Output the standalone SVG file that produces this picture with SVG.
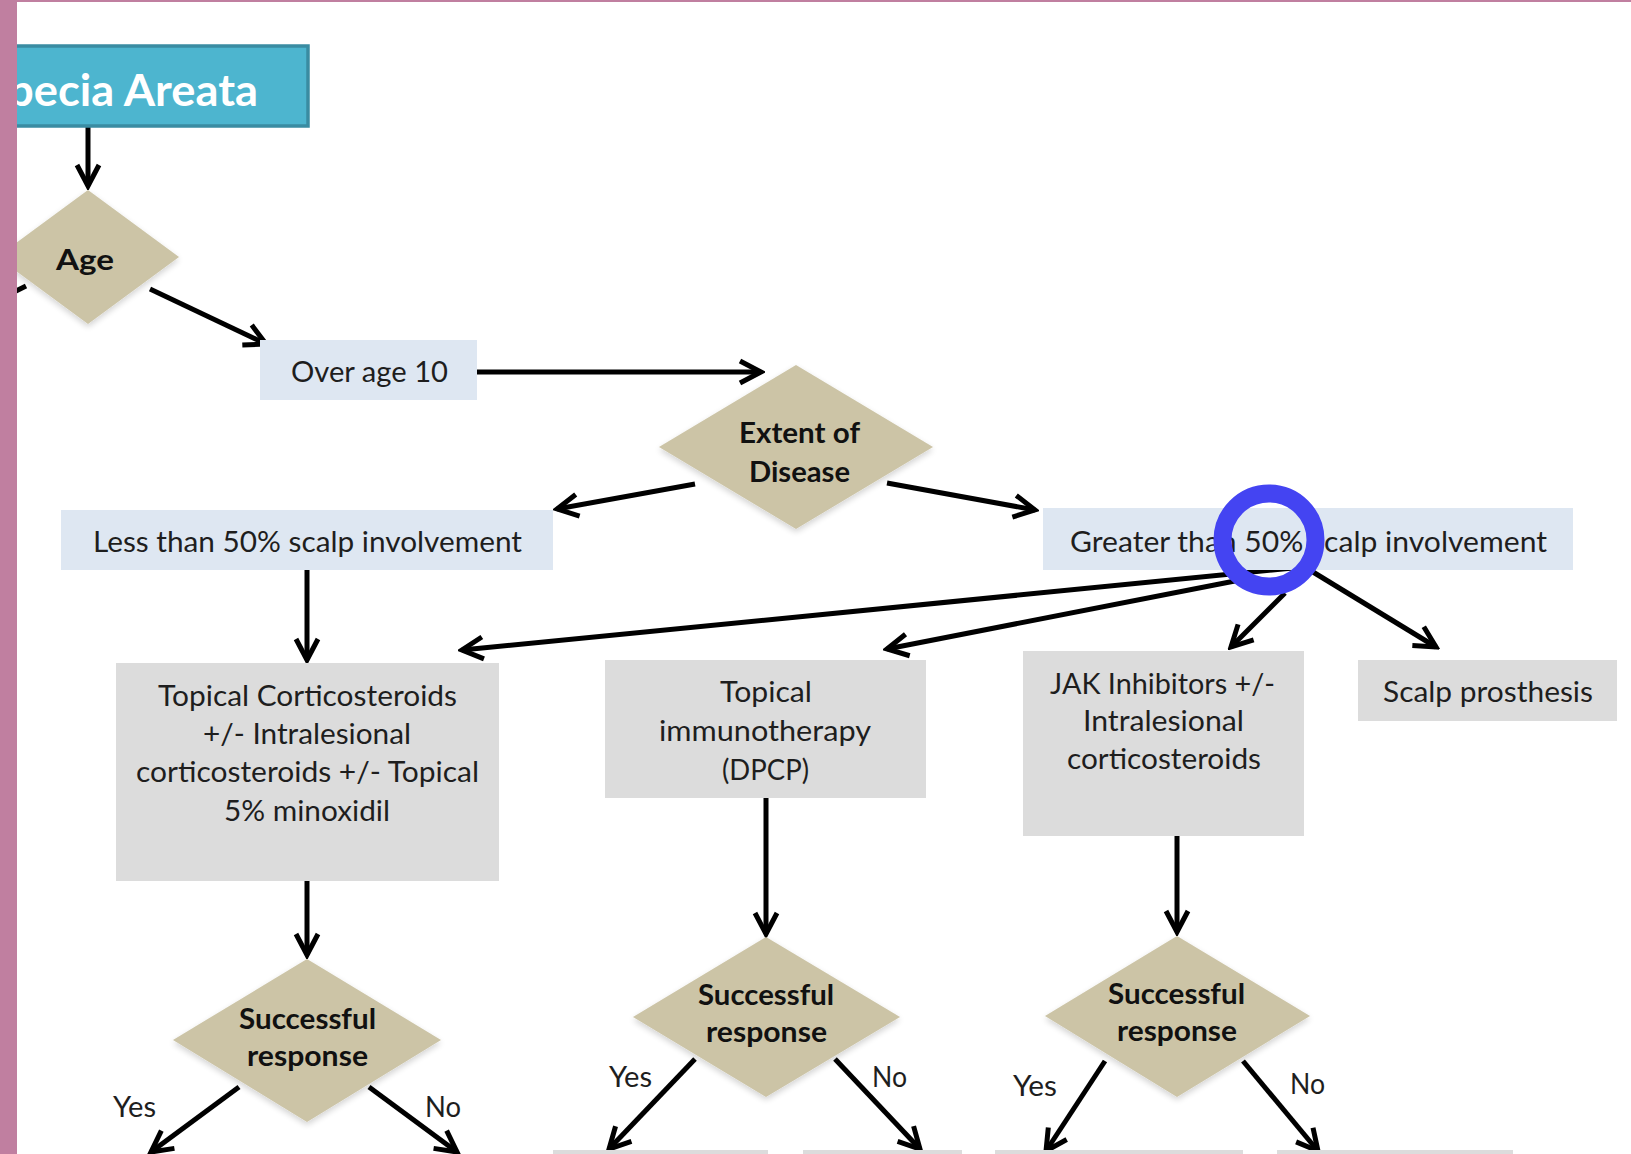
<svg xmlns="http://www.w3.org/2000/svg" width="1631" height="1154" viewBox="0 0 1631 1154">
<style>
.lb{fill:#DEE7F2}
.gb{fill:#DCDCDC}
.dm{fill:#CCC4A6;filter:url(#sh)}
.t{font-family:Lato,"Open Sans","Liberation Sans",sans-serif;font-size:29px;fill:#1E1E1E}
.b{font-family:Lato,"Open Sans","Liberation Sans",sans-serif;font-size:29px;font-weight:bold;fill:#111}
.c{fill:none;stroke:#000;stroke-width:5;marker-end:url(#ah)}
</style>
<defs>
<marker id="ah" markerUnits="userSpaceOnUse" viewBox="-26 -15 30 30" refX="0" refY="0" markerWidth="30" markerHeight="30" orient="auto">
<path d="M-21,-11 L0,0 L-21,11" fill="none" stroke="#000" stroke-width="5" stroke-linejoin="miter"/>
</marker>
<filter id="sh" x="-10%" y="-10%" width="120%" height="125%">
<feGaussianBlur in="SourceAlpha" stdDeviation="3"/>
<feOffset dx="0" dy="3" result="o"/>
<feComponentTransfer><feFuncA type="linear" slope="0.18"/></feComponentTransfer>
<feMerge><feMergeNode/><feMergeNode in="SourceGraphic"/></feMerge>
</filter>
</defs>
<rect width="1631" height="1154" fill="#FFFFFF"/>

<g id="connectors">
<line class="c" x1="88" y1="127" x2="88" y2="186"/>
<line x1="26" y1="286" x2="8" y2="295" stroke="#000" stroke-width="5"/>
<line class="c" x1="150" y1="289" x2="266" y2="344"/>
<line class="c" x1="477" y1="372" x2="761" y2="372"/>
<line class="c" x1="695" y1="484" x2="557" y2="509"/>
<line class="c" x1="887" y1="483" x2="1035" y2="510"/>
<line class="c" x1="307" y1="570" x2="307" y2="660"/>
<line class="c" x1="1293" y1="568" x2="462" y2="650"/>
<line class="c" x1="1240" y1="580" x2="887" y2="649"/>
<line class="c" x1="1285" y1="593" x2="1231" y2="647"/>
<line class="c" x1="1313" y1="572" x2="1436" y2="647"/>
<line class="c" x1="307" y1="881" x2="307" y2="955"/>
<line class="c" x1="766" y1="798" x2="766" y2="934"/>
<line class="c" x1="1177" y1="836" x2="1177" y2="932"/>
<line class="c" x1="239" y1="1087" x2="151" y2="1152"/>
<line class="c" x1="369" y1="1087" x2="457" y2="1152"/>
<line class="c" x1="695" y1="1059" x2="609" y2="1149"/>
<line class="c" x1="835" y1="1059" x2="920" y2="1149"/>
<line class="c" x1="1105" y1="1061" x2="1046" y2="1151"/>
<line class="c" x1="1243" y1="1061" x2="1318" y2="1151"/>
</g>

<g id="title">
<rect x="10" y="46" width="298" height="80" fill="#4DB5CF" stroke="#3A8CA2" stroke-width="3.5"/>
<text x="8" y="106" font-family="Lato,'Open Sans','Liberation Sans',sans-serif" font-size="43" font-weight="bold" fill="#FFFFFF" textLength="250" lengthAdjust="spacingAndGlyphs">pecia Areata</text>
</g>

<g id="age">
<polygon class="dm" points="88,190 179,257 88,324 -3,257"/>
<text class="b" x="56" y="270" font-size="33" textLength="58" lengthAdjust="spacingAndGlyphs">Age</text>
</g>

<g id="over-age-10">
<rect class="lb" x="260" y="340" width="217" height="60"/>
<text class="t" x="291" y="382" textLength="157" lengthAdjust="spacingAndGlyphs">Over age 10</text>
</g>

<g id="extent">
<polygon class="dm" points="796,365 933,447 796,529 659,447"/>
<text class="b" x="739" y="443" textLength="121" lengthAdjust="spacingAndGlyphs">Extent of</text>
<text class="b" x="749" y="482" textLength="101" lengthAdjust="spacingAndGlyphs">Disease</text>
</g>

<g id="less-than-50">
<rect class="lb" x="61" y="510" width="492" height="60"/>
<text class="t" x="93" y="552" textLength="429" lengthAdjust="spacingAndGlyphs">Less than 50% scalp involvement</text>
</g>

<g id="greater-than-50">
<rect class="lb" x="1043" y="508" width="530" height="62"/>
<text class="t" x="1070" y="552" textLength="477" lengthAdjust="spacingAndGlyphs">Greater than 50% scalp involvement</text>
</g>

<g id="topical-corticosteroids">
<rect class="gb" x="116" y="663" width="383" height="218"/>
<text class="t" x="158" y="706" textLength="299" lengthAdjust="spacingAndGlyphs">Topical Corticosteroids</text>
<text class="t" x="203" y="744" textLength="208" lengthAdjust="spacingAndGlyphs">+/- Intralesional</text>
<text class="t" x="136" y="782" textLength="343" lengthAdjust="spacingAndGlyphs">corticosteroids +/- Topical</text>
<text class="t" x="224" y="821" textLength="166" lengthAdjust="spacingAndGlyphs">5% minoxidil</text>
</g>

<g id="topical-immunotherapy">
<rect class="gb" x="605" y="660" width="321" height="138"/>
<text class="t" x="720" y="702" textLength="92" lengthAdjust="spacingAndGlyphs">Topical</text>
<text class="t" x="659" y="741" textLength="212" lengthAdjust="spacingAndGlyphs">immunotherapy</text>
<text class="t" x="722" y="780" textLength="87" lengthAdjust="spacingAndGlyphs">(DPCP)</text>
</g>

<g id="jak-inhibitors">
<rect class="gb" x="1023" y="651" width="281" height="185"/>
<text class="t" x="1050" y="694" textLength="225" lengthAdjust="spacingAndGlyphs">JAK Inhibitors +/-</text>
<text class="t" x="1083" y="731" textLength="161" lengthAdjust="spacingAndGlyphs">Intralesional</text>
<text class="t" x="1067" y="769" textLength="194" lengthAdjust="spacingAndGlyphs">corticosteroids</text>
</g>

<g id="scalp-prosthesis">
<rect class="gb" x="1358" y="660" width="259" height="61"/>
<text class="t" x="1383" y="702" textLength="210" lengthAdjust="spacingAndGlyphs">Scalp prosthesis</text>
</g>

<g id="response-1">
<polygon class="dm" points="307,959 441,1040 307,1122 173,1040"/>
<text class="b" x="239" y="1029" textLength="137" lengthAdjust="spacingAndGlyphs">Successful</text>
<text class="b" x="247" y="1066" textLength="121" lengthAdjust="spacingAndGlyphs">response</text>
</g>

<g id="response-2">
<polygon class="dm" points="766,937 900,1017 766,1097 633,1017"/>
<text class="b" x="698" y="1005" textLength="136" lengthAdjust="spacingAndGlyphs">Successful</text>
<text class="b" x="706" y="1042" textLength="121" lengthAdjust="spacingAndGlyphs">response</text>
</g>

<g id="response-3">
<polygon class="dm" points="1177,936 1310,1016 1177,1097 1045,1016"/>
<text class="b" x="1108" y="1004" textLength="137" lengthAdjust="spacingAndGlyphs">Successful</text>
<text class="b" x="1117" y="1041" textLength="120" lengthAdjust="spacingAndGlyphs">response</text>
</g>

<g id="labels">
<text class="t" x="113" y="1117" textLength="43" lengthAdjust="spacingAndGlyphs">Yes</text>
<text class="t" x="425" y="1117" textLength="36" lengthAdjust="spacingAndGlyphs">No</text>
<text class="t" x="609" y="1087" textLength="43" lengthAdjust="spacingAndGlyphs">Yes</text>
<text class="t" x="872" y="1087" textLength="35" lengthAdjust="spacingAndGlyphs">No</text>
<text class="t" x="1013" y="1096" textLength="44" lengthAdjust="spacingAndGlyphs">Yes</text>
<text class="t" x="1290" y="1094" textLength="35" lengthAdjust="spacingAndGlyphs">No</text>
</g>

<g id="bottom-boxes">
<rect class="gb" x="553" y="1150" width="215" height="30"/>
<rect class="gb" x="803" y="1150" width="159" height="30"/>
<rect class="gb" x="995" y="1150" width="248" height="30"/>
<rect class="gb" x="1277" y="1150" width="236" height="30"/>
</g>

<g id="highlight">
<circle cx="1269" cy="540" r="46.5" fill="none" stroke="#4444F2" stroke-width="18"/>
</g>

<g id="frame">
<rect x="0" y="0" width="17" height="1154" fill="#C07FA0"/>
<rect x="0" y="0" width="1631" height="2" fill="#C07FA0"/>
</g>
</svg>
